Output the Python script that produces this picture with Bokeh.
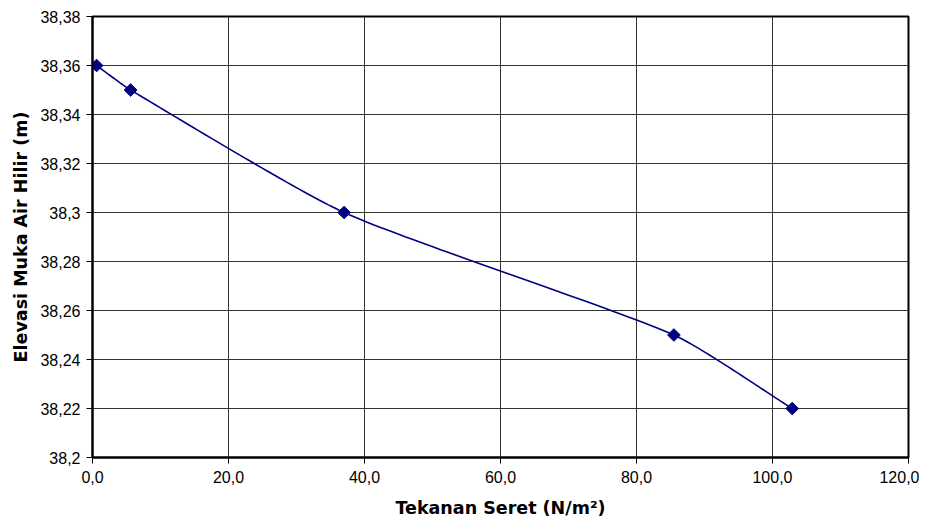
import numpy as np
from bokeh.plotting import figure
from bokeh.models import CustomJSTickFormatter, FixedTicker, Range1d
from bokeh.embed import file_html
from bokeh.resources import INLINE

# data
tekanan = [0.6, 5.6, 37.0, 85.5, 102.9]
elevasi = [38.36, 38.35, 38.30, 38.25, 38.22]
x_ticks = [0, 20, 40, 60, 80, 100, 120]
y_ticks = [38.20, 38.22, 38.24, 38.26, 38.28, 38.30, 38.32, 38.34, 38.36, 38.38]

X0, X1, Y0, Y1 = 0, 120, 38.2, 38.38
FW, FH = 816.0, 441.0  # approximate frame size in pixels, for screen-space smoothing

# smoothed line rendering: cubic Bezier with length-weighted tangents, in screen space
def smooth(xs, ys, n=40, k=0.2):
    P = np.array([[(x - X0) / (X1 - X0) * FW, (y - Y0) / (Y1 - Y0) * FH] for x, y in zip(xs, ys)])
    m = len(P)
    L = [np.linalg.norm(P[i + 1] - P[i]) for i in range(m - 1)]
    out = []
    for i in range(m - 1):
        p1, p2 = P[i], P[i + 1]
        p0 = P[i - 1] if i > 0 else p1
        p3 = P[i + 2] if i + 2 < m else p2
        l0 = L[i - 1] if i > 0 else 0.0
        l2 = L[i + 1] if i + 2 < m else 0.0
        c1 = p1 + (p2 - p0) * k * L[i] / (l0 + L[i])
        c2 = p2 - (p3 - p1) * k * L[i] / (L[i] + l2)
        t = np.linspace(0, 1, n, endpoint=(i == m - 2))[:, None]
        out.append((1 - t) ** 3 * p1 + 3 * (1 - t) ** 2 * t * c1 + 3 * (1 - t) * t ** 2 * c2 + t ** 3 * p2)
    Q = np.vstack(out)
    rx = X0 + Q[:, 0] / FW * (X1 - X0)
    ry = Y0 + Q[:, 1] / FH * (Y1 - Y0)
    return rx, ry

sx, sy = smooth(tekanan, elevasi)

p = figure(width=919, height=524, output_backend="svg", toolbar_location=None,
           x_range=Range1d(X0, X1), y_range=Range1d(Y0, Y1),
           min_border_left=92, min_border_right=11, min_border_top=16, min_border_bottom=67)

p.line(sx, sy, line_color="#000080", line_width=1.6)
p.scatter(tekanan, elevasi, marker="square", angle=np.pi / 4, size=9,
          fill_color="#000080", line_color="#000080")

p.xaxis.ticker = FixedTicker(ticks=x_ticks)
p.yaxis.ticker = FixedTicker(ticks=y_ticks)
p.xaxis.formatter = CustomJSTickFormatter(code="return tick.toFixed(1).replace('.', ',');")
p.yaxis.formatter = CustomJSTickFormatter(code="return String(parseFloat(tick.toFixed(2))).replace('.', ',');")

for ax in (p.xaxis, p.yaxis):
    ax.major_label_text_font = "Liberation Sans"
    ax.major_label_text_font_size = "16px"
    ax.major_label_text_color = "black"
    ax.axis_label_text_font = "DejaVu Sans"
    ax.axis_label_text_font_style = "bold"
    ax.axis_label_text_font_size = "17.5px"
    ax.axis_label_text_color = "black"
    ax.axis_line_color = "black"
    ax.axis_line_width = 2
    ax.major_tick_line_color = "black"
    ax.major_tick_in = 0
    ax.major_tick_out = 6
    ax.minor_tick_line_color = None

p.xaxis.axis_label = "Tekanan Seret (N/m²)"
p.yaxis.axis_label = "Elevasi Muka Air Hilir (m)"
p.xaxis.axis_label_standoff = 12
p.yaxis.axis_label_standoff = 6
p.xaxis.major_label_standoff = 7
p.yaxis.major_label_standoff = 6

p.xgrid.ticker = FixedTicker(ticks=x_ticks)
p.ygrid.ticker = FixedTicker(ticks=y_ticks)
p.grid.grid_line_color = "#333333"
p.grid.grid_line_width = 1
p.outline_line_color = "black"
p.outline_line_width = 2
p.background_fill_color = "white"
p.border_fill_color = "white"

open("out.html", "w").write(file_html(p, INLINE))
